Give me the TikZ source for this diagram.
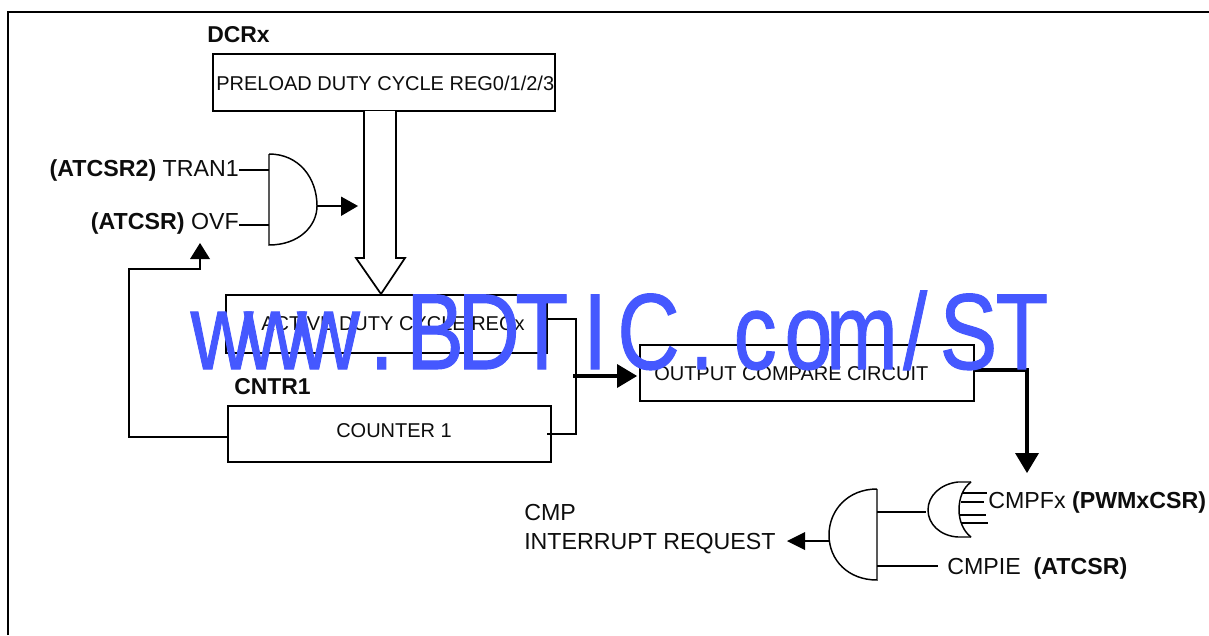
\documentclass[tikz,border=0pt]{standalone}
\usepackage{fontspec}
\setmainfont{Liberation Sans}
\newfontfamily\wmfont[FakeBold=1.0]{Liberation Sans}
\newcommand\wmc[1]{\makebox[50pt][c]{#1}}
\definecolor{wmblue}{HTML}{4558FF}
\tikzset{
  lbl/.style={inner sep=0pt,font=\fontsize{17.4}{20}\selectfont,text=black!95},
  boxtxt/.style={inner sep=0pt,font=\fontsize{15}{18}\selectfont,text=black!95},
  boxn/.style={draw=black,line width=1.3pt,inner sep=0pt},
  wire/.style={draw=black,line width=1.3pt},
  thick wire/.style={draw=black,line width=3pt},
  gate/.style={draw=black,line width=1.1pt},
  head/.style={fill=black,draw=none},
}
\begin{document}
\begin{tikzpicture}[x=0.75pt,y=-0.75pt]
\useasboundingbox (0,0) rectangle (1209,635);
\fill[white] (0,0) rectangle (1209,635);
\draw[wire] (8,635) -- (8,12) -- (1209,12);
% boxes
\node[boxn,minimum width=256.5pt,minimum height=42.75pt] (preload) at (384,82.5) {};
\node[boxn,minimum width=240.75pt,minimum height=43.5pt] (active) at (386.5,324) {};
\node[boxn,minimum width=242.25pt,minimum height=42pt] (counter) at (389.5,434) {};
\node[boxn,minimum width=250.5pt,minimum height=42pt] (output) at (807,373) {};
% box texts
\node[boxtxt,anchor=west] (tp) at (216,83) {PRELOAD DUTY CYCLE REG0/1/2/3};
\node[boxtxt,anchor=west] (ta) at (261,324) {ACTIVE DUTY CYCLE REGx};
\node[boxtxt,anchor=west] (tc) at (336,431) {COUNTER 1};
\node[boxtxt,anchor=west] (to) at (654,374) {OUTPUT COMPARE CIRCUIT};
% labels
\node[lbl,anchor=west,font=\fontsize{17.2}{20}\selectfont\bfseries] (dcr) at (207,35) {DCRx};
\node[lbl,anchor=west,font=\fontsize{17.2}{20}\selectfont\bfseries] (cnt) at (234,387) {CNTR1};
\node[lbl,anchor=east] (tran) at (239,170.5) {\textbf{(ATCSR2)} TRAN1};
\node[lbl,anchor=east] (ovf) at (239,223) {\textbf{(ATCSR)} OVF};
\node[lbl,anchor=west] (cmpf) at (988,502) {CMPFx \textbf{(PWMxCSR)}};
\node[lbl,anchor=west] (cmpie) at (947,568) {CMPIE\ \ \textbf{(ATCSR)}};
\node[lbl,anchor=west,align=left] (cmp) at (524,513) {CMP};
\node[lbl,anchor=west,align=left] (irq) at (524,544) {INTERRUPT\ REQUEST};
% hollow bus arrow
\coordinate (busl) at (364,111);
\coordinate (busr) at (396,111);
\coordinate (bustip) at (381,294);
\draw[gate,line width=1.3pt,fill=white] (busl) -- (364,258) -- (356,258) -- (bustip) -- (405,258) -- (396,258) -- (busr);
% AND gate 1
\coordinate (g1a) at (269,170);
\coordinate (g1b) at (269,225);
\coordinate (g1o) at (317,206);
\draw[gate] (269,154) -- (269,245) .. controls (299,245) and (317,226) .. (g1o) .. controls (317,178) and (299,154) .. (269,154);
\draw[wire] (tran.east |- g1a) -- (g1a);
\draw[wire] (ovf.east |- g1b) -- (g1b);
\coordinate (g1h) at (341,206);
\draw[wire] (g1o) -- (g1h);
\fill[head] (341,196.5) -- (358,206) -- (341,216) -- cycle;
% feedback
\coordinate (fbs) at (counter.west |- 0,437);
\coordinate (fbh) at (200,258);
\draw[wire] (fbs) -- (129,437) -- (129,269) -- (200,269) -- (fbh);
\fill[head] (190,259) -- (200,243) -- (210,259) -- cycle;
% merge to output compare
\coordinate (ma) at (547,319);
\coordinate (mc) at (547,434);
\draw[wire] (ma) -- (576,319) -- (576,434) -- (mc);
\coordinate (ms) at (573,376);
\coordinate (mh) at (618,376);
\draw[thick wire] (ms) -- (mh);
\fill[head] (617,364) -- (637,376) -- (617,388) -- cycle;
% output to flag
\coordinate (os) at (974,370);
\coordinate (oh) at (1027,454);
\draw[wire,line width=2.6pt] (os) -- (1027,370) -- (oh);
\fill[head] (1015,453) -- (1039,453) -- (1027,473) -- cycle;
% OR-shaped latch
\coordinate (orin) at (926,512);
\draw[gate] (971,482) -- (958,482) .. controls (940,484) and (928,496) .. (928,510) .. controls (928,524) and (940,536) .. (958,537) -- (971,537);
\draw[gate] (971,482) .. controls (963,488) and (959,498) .. (959,510) .. controls (959,520) and (963,531) .. (971,537);
\foreach \yy/\xa/\xb in {493/962/987,502/961/984,515/960/986,523/962/988}
  \draw[wire] (\xa,\yy) -- (\xb,\yy);
% AND gate 2
\coordinate (g2a) at (877,512);
\coordinate (g2b) at (877,566);
\coordinate (g2o) at (829,535);
\coordinate (g2e) at (938,566);
\draw[gate] (877,489) -- (877,580) .. controls (848,580) and (829,560) .. (g2o) .. controls (829,510) and (848,489) .. (877,489);
\draw[wire] (g2a) -- (orin);
\draw[wire] (g2b) -- (g2e);
\coordinate (g2h) at (804,541);
\draw[wire] (829,541) -- (g2h);
\fill[head] (805,532) -- (787,541) -- (805,550) -- cycle;
% watermark
\node[inner sep=0pt,anchor=base west,text=wmblue,xscale=0.8,font=\fontsize{81}{81}\selectfont\wmfont] (wm) at (195,369)
  {\wmc{w}\wmc{w}\wmc{w}\wmc{.}\wmc{B}\wmc{D}\wmc{T}\wmc{I}\wmc{C}\wmc{.}\wmc{c}\wmc{o}\wmc{m}\wmc{/}\wmc{S}\wmc{T}};
\end{tikzpicture}
\end{document}
